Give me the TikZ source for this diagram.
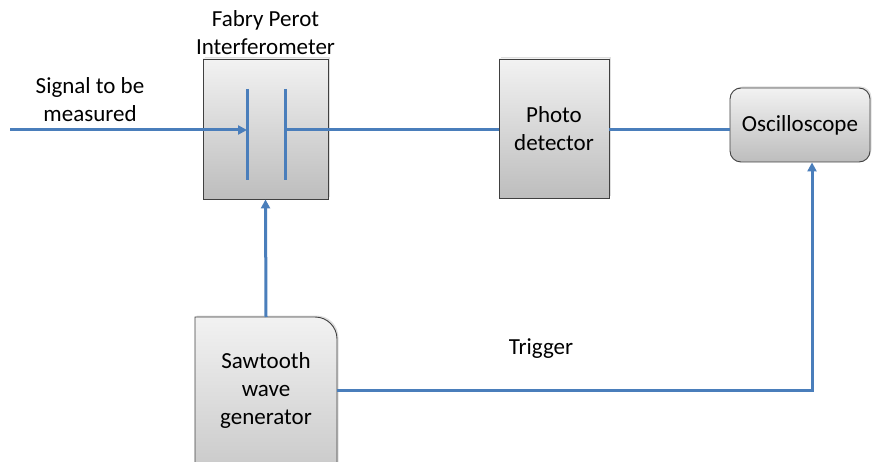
\documentclass[tikz,border=0pt]{standalone}
\usepackage{fontspec}
\setmainfont{Carlito}
\usetikzlibrary{arrows.meta,shadows,positioning}
\definecolor{wire}{HTML}{4A7EBB}
\definecolor{boxtop}{HTML}{F2F2F2}
\definecolor{boxbot}{HTML}{BDBDBD}
\tikzset{
  blockbox/.style={draw=black!75, line width=0.9pt, top color=boxtop, bottom color=boxbot,
    drop shadow={shadow xshift=1.5pt, shadow yshift=1.5pt, opacity=0.25},
    align=center, font=\fontsize{23}{28}\selectfont, inner sep=0pt},
  wireline/.style={draw=wire, line width=3pt},
  wirearrow/.style={wireline, -{Triangle[length=9pt,width=9pt]}},
  label/.style={align=center, font=\fontsize{23}{28}\selectfont, text=black}
}
\begin{document}
\begin{tikzpicture}[x=1pt,y=-1pt]
\useasboundingbox (0,0) rectangle (872,462);
\clip (0,0) rectangle (872,462);
\fill[white] (0,0) rectangle (872,462);

% blocks
\node[blockbox, minimum width=125pt, minimum height=140pt] (fp) at (265.5,129) {};
\node[blockbox, minimum width=110pt, minimum height=139pt] (pd) at (554,128.5) {Photo\\detector};
\node[blockbox, rounded corners=11pt, minimum width=140pt, minimum height=74pt] (osc) at (800,125) {Oscilloscope};

% sawtooth generator: only the top-right corner is rounded, the bottom runs off the page
\path[draw=black!75, line width=0.9pt, top color=boxtop, bottom color=boxbot,
      drop shadow={shadow xshift=1.5pt, shadow yshift=1.5pt, opacity=0.25}]
  (195,520) -- (195,317) -- (315,317) arc[start angle=90, end angle=0, radius=22pt] -- (337,520) -- cycle;
\node[label] (saw) at (266,390) {Sawtooth\\wave\\generator};
\coordinate (sawtop) at (266,317);
\coordinate (sawright) at (337,390);

% Fabry-Perot plates
\coordinate (p1t) at (247,89);
\coordinate (p1b) at (247,180);
\coordinate (p2t) at (285,89);
\coordinate (p2b) at (285,180);
\coordinate (p1m) at (247,130);
\coordinate (p2m) at (285,130);
\draw[wireline] (p1t) -- (p1b);
\draw[wireline] (p2t) -- (p2b);

% labels
\node[label] (fplabel) at (265.5,33) {Fabry Perot\\Interferometer};
\node[label] (sig) at (90,100) {Signal to be\\measured};
\node[label] (trig) at (541,349) {Trigger};

% connectors
\coordinate (src) at (10,130);
\draw[wirearrow] (src) -- (p1m);
\draw[wireline] (p2m) -- (pd.west |- p2m);
\draw[wireline] (pd.east |- p2m) -- (osc.west |- p2m);
\draw[wirearrow] (sawtop) -- (fp.south);
\coordinate (bend) at (812,390);
\draw[wirearrow] (sawright) -- (bend) -- (bend |- osc.south);
\end{tikzpicture}
\end{document}
